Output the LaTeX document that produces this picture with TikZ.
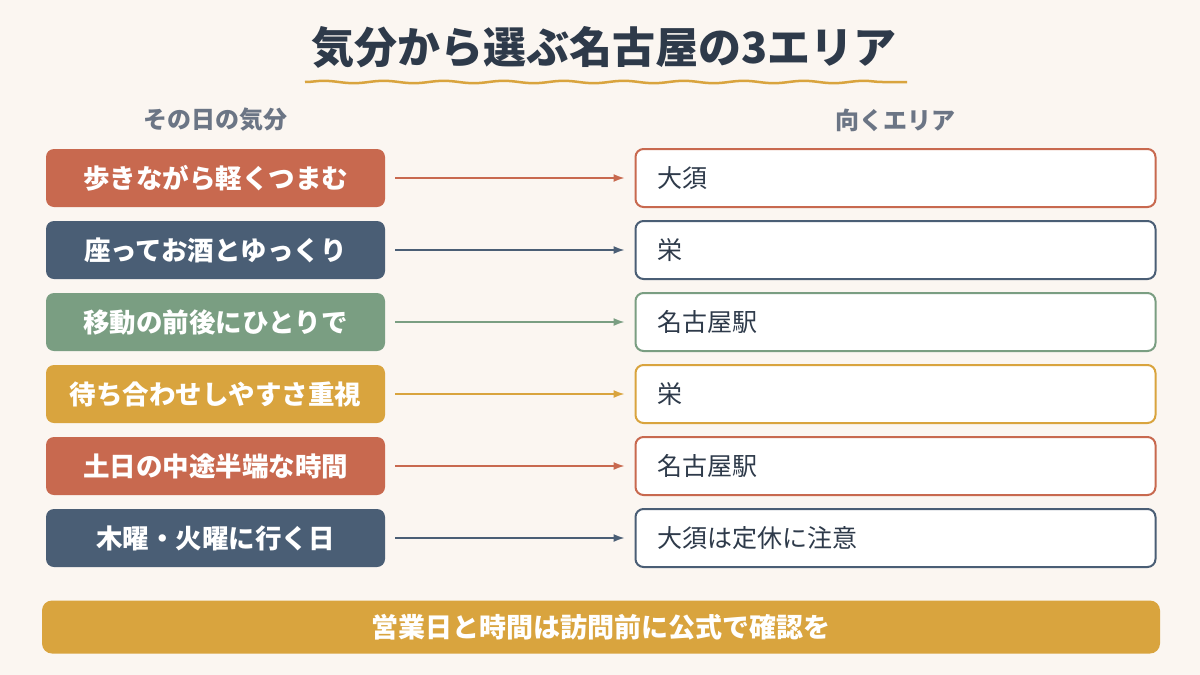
\documentclass[tikz,border=0pt]{standalone}
\usepackage{fontspec}
\setmainfont{Noto Sans CJK JP}
\usetikzlibrary{decorations.pathmorphing,arrows.meta}
\definecolor{bg}{HTML}{FBF6F1}
\definecolor{cr}{HTML}{C8694F}
\definecolor{cn}{HTML}{4A5E75}
\definecolor{cg}{HTML}{7A9E82}
\definecolor{cy}{HTML}{D9A43E}
\definecolor{tt}{HTML}{2E3A4A}
\definecolor{hd}{HTML}{6B7585}
\begin{document}
\begin{tikzpicture}[x=1pt,y=-1pt,
 lbox/.style={draw=none,fill=#1,rounded corners=8pt,minimum width=339pt,minimum height=58pt,text=white,font=\fontsize{26.5}{30}\selectfont\bfseries,inner sep=0pt},
 rbox/.style={draw=#1,line width=2pt,fill=white,rounded corners=8pt,minimum width=520pt,minimum height=58pt,inner sep=0pt},
 arr/.style={draw=#1,line width=1.5pt,-{Latex[length=11pt,width=8pt]}},
 rtext/.style={anchor=west,text=tt,font=\fontsize{25}{28}\selectfont}]
\useasboundingbox[fill=bg] (0,0) rectangle (1200,675);
\node[text=tt,font=\fontsize{43}{48}\selectfont\bfseries] (title) at (604,47) {気分から選ぶ名古屋の3エリア};
\draw[cy,line width=2.5pt,decoration={snake,amplitude=1.2pt,segment length=60pt},decorate] (305,82) -- (907,82);
\node[text=hd,font=\fontsize{24}{28}\selectfont\bfseries] (h1) at (215,120) {その日の気分};
\node[text=hd,font=\fontsize{24}{28}\selectfont\bfseries] (h2) at (895,120) {向くエリア};
\foreach \i/\c/\l/\r in {0/cr/歩きながら軽くつまむ/大須,1/cn/座ってお酒とゆっくり/栄,2/cg/移動の前後にひとりで/名古屋駅,3/cy/待ち合わせしやすさ重視/栄,4/cr/土日の中途半端な時間/名古屋駅,5/cn/木曜・火曜に行く日/大須は定休に注意}{
 \pgfmathsetmacro\yy{178+72*\i}
 \node[lbox=\c] (L\i) at (215.5,\yy) {\l};
 \node[rbox=\c] (R\i) at (895.5,\yy) {};
 \node[rtext] (T\i) at (654,\yy) {\r};
 \coordinate (s\i) at (395,\yy);
 \draw[arr=\c] (s\i) -- ([xshift=-10pt]R\i.west);
}
\node[fill=cy,rounded corners=10pt,minimum width=1118pt,minimum height=53pt,text=white,font=\fontsize{27}{30}\selectfont\bfseries] (bar) at (601,627) {営業日と時間は訪問前に公式で確認を};
\end{tikzpicture}
\end{document}
